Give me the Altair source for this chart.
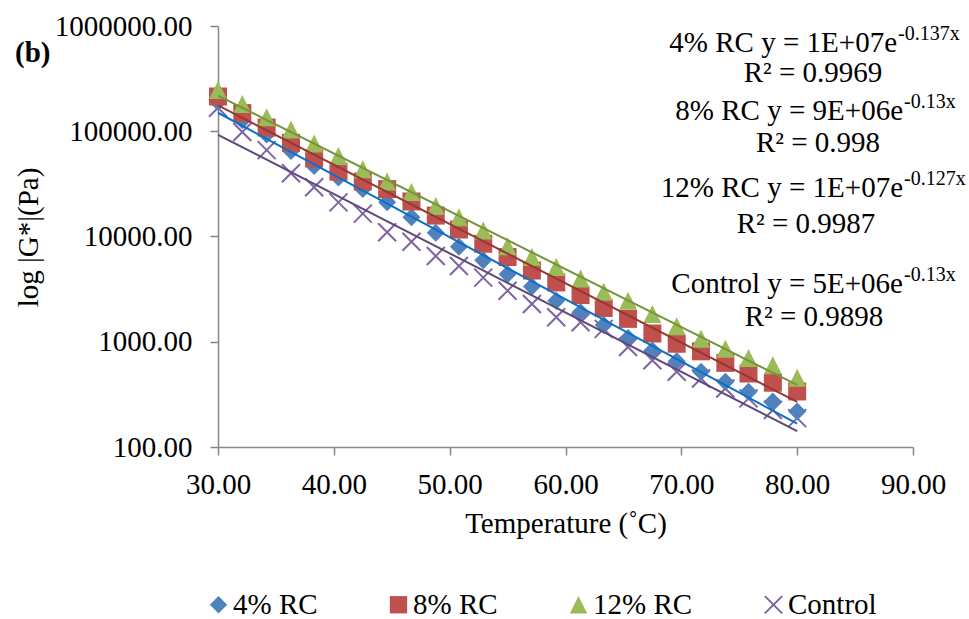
import altair as alt
import pandas as pd

# ---------------- data ----------------
temps = [30.0, 32.1, 34.2, 36.3, 38.3, 40.4, 42.5, 44.6, 46.7, 48.8, 50.8, 52.9,
         55.0, 57.1, 59.2, 61.3, 63.3, 65.4, 67.5, 69.6, 71.7, 73.8, 75.8, 77.9, 80.0]

rc4 = [190000, 127000, 93000, 64800, 46800, 36300, 28200, 21100, 15200, 10830,
       8000, 5940, 4385, 3350, 2455, 1906, 1445, 1084, 828, 652, 518, 417, 335, 270, 217]
rc8 = [213800, 148900, 108400, 77600, 55200, 41300, 33300, 28200, 21500, 15800,
       11650, 8530, 6380, 4750, 3660, 2775, 2095, 1650, 1198, 957, 811, 630, 499, 408, 337]
rc12 = [247000, 182000, 136000, 103800, 76500, 58100, 43500, 33300, 26500, 19500,
        15200, 11400, 8100, 6380, 5130, 3990, 2985, 2450, 1840, 1405, 1067, 859, 702, 597, 455]
control = [167400, 98400, 66200, 39900, 29400, 21100, 16500, 10990, 8930, 6520,
           5250, 4070, 3050, 2280, 1710, 1534, 1326, 891, 667, 518, 448, 360, 290, 225, 188]

series_names = ["4% RC", "8% RC", "12% RC", "Control"]
marker_fill = ["#4F81BD", "#C0504D", "#9BBB59", "#8064A2"]
marker_stroke = ["transparent", "transparent", "transparent", "#8064A2"]
trend_colors = ["#0A70C8", "#953735", "#77933C", "#5F497A"]
shapes = ["M0,-1L1,0L0,1L-1,0Z", "M-1,-1H1V1H-1Z", "M0,-1L1,1H-1Z", "M-1,-1L1,1M-1,1L1,-1"]

eq_main = ["4% RC y = 1E+07e", "8% RC y = 9E+06e", "12% RC y = 1E+07e", "Control y = 5E+06e"]
eq_sup = ["-0.137x", "-0.13x", "-0.127x", "-0.13x"]
eq_r2 = ["R\u00b2 = 0.9969", "R\u00b2 = 0.998", "R\u00b2 = 0.9987", "R\u00b2 = 0.9898"]

y_ticks = [100, 1000, 10000, 100000, 1000000]
x_ticks = [30, 40, 50, 60, 70, 80, 90]

# ---------------- table ----------------
rows = []
for name, vals in [("Control", control), ("4% RC", rc4), ("8% RC", rc8), ("12% RC", rc12)]:
    for t, v in zip(temps, vals):
        rows.append({"series": name, "T": t, "G": v})
df = pd.DataFrame(rows)

FONT = "Liberation Serif"
OX, OY = 218, 26          # plot origin in the page
W, H = 695, 421

xenc = alt.X("T:Q", scale=alt.Scale(domain=[30, 90], nice=False, zero=False),
             axis=alt.Axis(values=x_ticks, format=".2f", title="Temperature (\u02daC)",
                           tickSize=8, labelPadding=15, titleY=85, labelFlush=False,
                           titleBaseline="alphabetic"))
yenc = alt.Y("G:Q", scale=alt.Scale(type="log", domain=[100, 1000000], nice=False),
             axis=alt.Axis(values=y_ticks, format=".2f", title="log |G*|(Pa)",
                           tickSize=8, labelPadding=18, titleX=-175, titleY=211,
                           labelFlush=False,
                           titleAngle=270, titleAlign="center", titleBaseline="bottom"))

leg = alt.Legend(orient="none", legendX=-14, legendY=564, direction="horizontal",
                 title=None, columnPadding=66, symbolSize=300, symbolStrokeWidth=2,
                 labelFont=FONT, labelFontSize=29, labelColor="black", padding=0,
                 labelOffset=0)

points = alt.Chart(df).mark_point(filled=True, size=324, opacity=1, strokeWidth=2).encode(
    x=xenc,
    y=yenc,
    fill=alt.Fill("series:N", scale=alt.Scale(domain=series_names, range=marker_fill), legend=leg),
    stroke=alt.Stroke("series:N", scale=alt.Scale(domain=series_names, range=marker_stroke), legend=leg),
    shape=alt.Shape("series:N", scale=alt.Scale(domain=series_names, range=shapes), legend=leg),
)

trends = alt.Chart(df).transform_calculate(
    ly="log(datum.G)"
).transform_regression(
    "T", "ly", groupby=["series"]
).transform_calculate(
    G="exp(datum.ly)"
).mark_line(strokeWidth=2).encode(
    x="T:Q",
    y="G:Q",
    color=alt.Color("series:N", scale=alt.Scale(domain=series_names, range=trend_colors), legend=None),
)


def txt(s, x, y, size=29, align="left", baseline="middle", weight="normal"):
    return alt.Chart(pd.DataFrame({"t": [s]})).mark_text(
        align=align, baseline=baseline, fontSize=size, font=FONT,
        fontWeight=weight, color="black"
    ).encode(x=alt.value(x - OX), y=alt.value(y - OY), text="t:N")


main_end = [897, 903, 903, 903]
main_y = [43, 111, 188, 284]
r2_x = [813, 818, 806, 814]
r2_y = [73, 143, 224, 317]

labels = []
for i in range(4):
    labels.append(txt(eq_main[i], main_end[i], main_y[i], align="right"))
    labels.append(txt(eq_sup[i], main_end[i] + 1, main_y[i] - 9, size=20, align="left"))
    labels.append(txt(eq_r2[i], r2_x[i], r2_y[i], align="center"))
labels.append(txt("(b)", 15, 62, baseline="alphabetic", weight="bold"))

chart = alt.layer(points, trends, *labels).properties(
    width=W, height=H,
    autosize=alt.AutoSizeParams(type="none"),
    padding={"left": OX, "top": OY, "right": 969 - OX - W, "bottom": 619 - OY - H},
    background="white",
).configure_view(stroke=None).configure_axis(
    grid=False, domainColor="#868686", tickColor="#868686", domainWidth=1.5, tickWidth=1.5,
    labelFont=FONT, labelFontSize=29, labelColor="black",
    titleFont=FONT, titleFontSize=29, titleColor="black", titleFontWeight="normal",
)

chart.save("out.html", embed_options={"renderer": "svg", "actions": False})
